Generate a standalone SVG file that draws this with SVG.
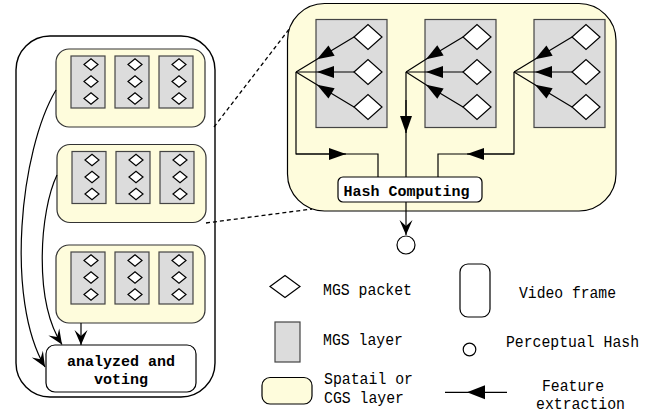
<svg xmlns="http://www.w3.org/2000/svg" width="657" height="417" viewBox="0 0 657 417">
  <style>
    .frame { fill: #ffffff; stroke: #000; stroke-width: 1.4; }
    .spatial { fill: #fefcdc; stroke: #333; stroke-width: 1.2; }
    .mgs { fill: #dcdcdc; stroke: #444; stroke-width: 1.2; }
    .pkt { fill: #ffffff; stroke: #000; stroke-width: 1.2; }
    .box { fill: #ffffff; stroke: #000; stroke-width: 1.2; }
    .wire { fill: none; stroke: #000; stroke-width: 1.2; }
    .dash { fill: none; stroke: #000; stroke-width: 1.3; stroke-dasharray: 4 3; }
    .lbl { font-family: "Liberation Mono", "DejaVu Sans Mono", monospace; font-size: 16.5px; fill: #000; }
    .blbl { font-family: "Liberation Mono", "DejaVu Sans Mono", monospace; font-size: 15px; font-weight: bold; fill: #000; }
  </style>
  <defs>
    <marker id="tri" markerUnits="userSpaceOnUse" markerWidth="20" markerHeight="14" viewBox="-18 -7 19 14" refX="0" refY="0" orient="auto" overflow="visible">
      <path d="M0,0 L-17,-6 L-17,6 Z" fill="#000"/>
    </marker>
    <marker id="vee" markerUnits="userSpaceOnUse" markerWidth="18" markerHeight="14" viewBox="-16 -7 17 14" refX="0" refY="0" orient="auto" overflow="visible">
      <path d="M0,0 L-15,-6.5 L-9,0 L-15,6.5 Z" fill="#000"/>
    </marker>
    <path id="pk" d="M-7,0 L0,-5.8 L7,0 L0,5.8 Z"/>
    <path id="bigpk" d="M-14,0 L0,-12.5 L14,0 L0,12.5 Z"/>
    <g id="mgsCol">
      <rect class="mgs" x="0" y="0" width="34" height="52"/>
      <use href="#pk" class="pkt" x="20" y="8.5"/>
      <use href="#pk" class="pkt" x="20" y="25.5"/>
      <use href="#pk" class="pkt" x="20" y="42.5"/>
    </g>
    <g id="spatialRow">
      <rect class="spatial" x="0" y="0" width="149" height="78" rx="13"/>
      <use href="#mgsCol" x="15" y="7"/>
      <use href="#mgsCol" x="59" y="7"/>
      <use href="#mgsCol" x="103" y="7"/>
    </g>
  </defs>

  <!-- left video frame with three spatial layers -->
  <g id="video-frame">
    <rect class="frame" x="16" y="36" width="199" height="361" rx="34"/>
  </g>
  <g id="spatial-1"><use href="#spatialRow" x="56" y="49"/></g>
  <g id="spatial-2"><use href="#spatialRow" x="57" y="144.5"/></g>
  <g id="spatial-3"><use href="#spatialRow" x="56" y="245"/></g>
  <g id="voting">
    <rect class="box" x="46" y="345" width="150" height="47" rx="9"/>
    <text class="blbl" x="121" y="366" text-anchor="middle">analyzed and</text>
    <text class="blbl" x="121" y="384" text-anchor="middle">voting</text>
  </g>

  <!-- enlarged spatial layer -->
  <g id="spatial-detail">
    <rect class="spatial" x="287.5" y="3.5" width="328.5" height="207.5" rx="37" style="stroke:#000"/>
    <g id="mgs-a">
      <rect class="mgs" x="316" y="19.5" width="71" height="108"/>
      <use href="#bigpk" class="pkt" x="368" y="37"/>
      <use href="#bigpk" class="pkt" x="368" y="72"/>
      <use href="#bigpk" class="pkt" x="368" y="107"/>
    </g>
    <g id="mgs-b">
      <rect class="mgs" x="425" y="19.5" width="71" height="108"/>
      <use href="#bigpk" class="pkt" x="477" y="37"/>
      <use href="#bigpk" class="pkt" x="477" y="72"/>
      <use href="#bigpk" class="pkt" x="477" y="107"/>
    </g>
    <g id="mgs-c">
      <rect class="mgs" x="534" y="19.5" width="71" height="108"/>
      <use href="#bigpk" class="pkt" x="586" y="37"/>
      <use href="#bigpk" class="pkt" x="586" y="72"/>
      <use href="#bigpk" class="pkt" x="586" y="107"/>
    </g>
  </g>

  <g id="hash-computing">
    <rect class="box" x="338" y="177" width="144" height="25" rx="5"/>
    <text class="blbl" x="343.5" y="195.5">Hash Computing</text>
  </g>
  <g id="perceptual-hash">
    <circle class="box" cx="406" cy="245" r="9"/>
  </g>

  <!-- connectors -->
  <g id="connectors">
    <!-- frame to analysis -->
    <path class="wire" d="M56 90 C20 150, 5 300, 45 367" marker-end="url(#vee)"/>
    <path class="wire" d="M57 175 C40 210, 33 300, 62 344.5" marker-end="url(#vee)"/>
    <path class="wire" d="M81 323 V345" marker-end="url(#vee)"/>

    <!-- feature extraction fans -->
    <path class="wire" d="M354 37 L317 59.3 L296 72" marker-mid="url(#tri)"/>
    <path class="wire" d="M354 72 L317 72 L296 72" marker-mid="url(#tri)"/>
    <path class="wire" d="M354 107 L317 84.7 L296 72" marker-mid="url(#tri)"/>

    <path class="wire" d="M463 37 L426 59.3 L406 72" marker-mid="url(#tri)"/>
    <path class="wire" d="M463 72 L426 72 L406 72" marker-mid="url(#tri)"/>
    <path class="wire" d="M463 107 L426 84.7 L406 72" marker-mid="url(#tri)"/>

    <path class="wire" d="M572 37 L535 59.3 L514 72" marker-mid="url(#tri)"/>
    <path class="wire" d="M572 72 L535 72 L514 72" marker-mid="url(#tri)"/>
    <path class="wire" d="M572 107 L535 84.7 L514 72" marker-mid="url(#tri)"/>

    <!-- fans to hash computing -->
    <path class="wire" d="M296 72 V154 H378 V177"/>
    <path class="wire" d="M296 154 H346" marker-end="url(#tri)"/>
    <path class="wire" d="M406 72 V177"/>
    <path class="wire" d="M406 100 V133" marker-end="url(#tri)"/>
    <path class="wire" d="M514 72 V154 H438 V177"/>
    <path class="wire" d="M514 154 H467" marker-end="url(#tri)"/>

    <!-- hash output -->
    <path class="wire" d="M406 202 V235" marker-end="url(#vee)"/>

    <!-- zoom guides -->
    <path class="dash" d="M214 127 L290 28"/>
    <path class="dash" d="M206 223 L312 209"/>
  </g>

  <!-- legend -->
  <g id="legend">
    <path class="pkt" d="M270 286.5 L285 275.5 L300 286.5 L285 297.5 Z"/>
    <text class="lbl" x="323" y="295" textLength="89" lengthAdjust="spacingAndGlyphs">MGS packet</text>
    <rect class="mgs" x="275" y="322" width="25" height="40"/>
    <text class="lbl" x="323" y="345" textLength="80" lengthAdjust="spacingAndGlyphs">MGS layer</text>
    <rect class="spatial" x="262" y="377.5" width="50" height="26.5" rx="8" style="stroke:#000"/>
    <text class="lbl" x="324" y="384" textLength="89" lengthAdjust="spacingAndGlyphs">Spatail or</text>
    <text class="lbl" x="324" y="403" textLength="80" lengthAdjust="spacingAndGlyphs">CGS layer</text>
    <rect class="box" x="460" y="264" width="30" height="53" rx="8"/>
    <text class="lbl" x="519" y="298" textLength="97" lengthAdjust="spacingAndGlyphs">Video frame</text>
    <circle class="box" cx="469.5" cy="349.5" r="6.3"/>
    <text class="lbl" x="506" y="347" textLength="133" lengthAdjust="spacingAndGlyphs">Perceptual Hash</text>
    <path class="wire" d="M445 392.3 H507"/>
    <path d="M467 392.3 L485 385.3 L485 399.3 Z" fill="#000"/>
    <text class="lbl" x="542" y="390.5" textLength="62" lengthAdjust="spacingAndGlyphs">Feature</text>
    <text class="lbl" x="536" y="409" textLength="89" lengthAdjust="spacingAndGlyphs">extraction</text>
  </g>
</svg>
